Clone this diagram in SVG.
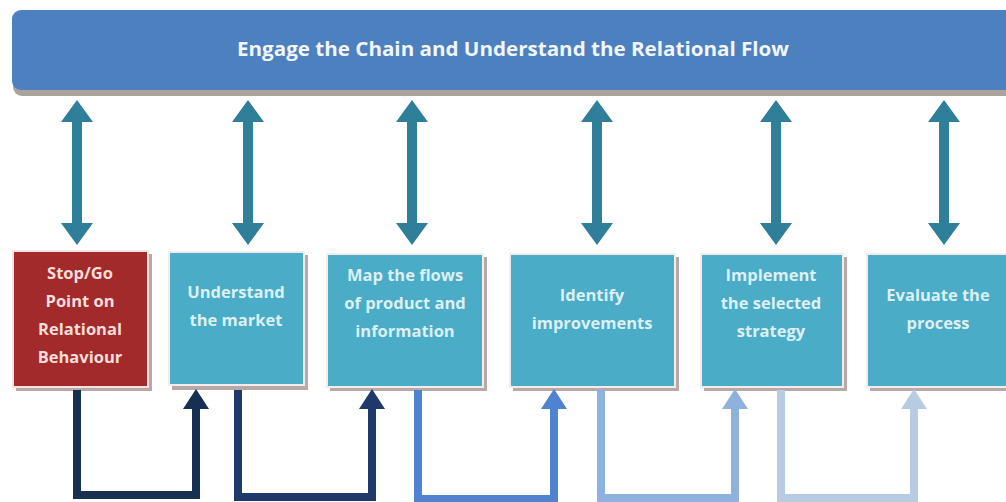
<svg xmlns="http://www.w3.org/2000/svg" width="1006" height="502" viewBox="0 0 1006 502">
  <defs>
    <!-- vertical double-headed arrow, centred on x=0 -->
    <polygon id="dbl" points="0,100 16,122 5,122 5,223 16,223 0,245 -16,223 -5,223 -5,122 -16,122"/>
    <style>
      .lbl { font-family: "Open Sans", "Liberation Sans", sans-serif; font-weight: bold; font-size: 16.5px; text-anchor: middle; }
      .light { fill: #dcf0f5; }
      .pink { fill: #f6dedd; }
      .shadow { fill: #b8a8a6; }
      .box { fill: #4aacc6; stroke: #f4ecec; stroke-width: 2; }
      .red { fill: #a32a2a; stroke: #f6e3e2; stroke-width: 2; }
      .link { fill: none; stroke-width: 8; stroke-linejoin: miter; }
    </style>
  </defs>

  <rect width="1006" height="502" fill="#ffffff"/>

  <!-- header bar -->
  <g id="header">
    <rect x="13" y="13" width="1010" height="83" rx="9" fill="#aaa39b"/>
    <rect x="12" y="10" width="1010" height="80" rx="9" fill="#4d80bf"/>
    <text x="513" y="56" font-family="Open Sans, Liberation Sans, sans-serif" font-weight="bold" font-size="19" fill="#f2f6fb" text-anchor="middle" textLength="552" lengthAdjust="spacingAndGlyphs">Engage the Chain and Understand the Relational Flow</text>
  </g>

  <!-- two-way links between header and steps -->
  <g id="header-links" fill="#2f7f9b">
    <use href="#dbl" x="77"/>
    <use href="#dbl" x="248"/>
    <use href="#dbl" x="412"/>
    <use href="#dbl" x="597"/>
    <use href="#dbl" x="776"/>
    <use href="#dbl" x="944"/>
  </g>

  <!-- steps -->
  <g id="step-stopgo">
    <rect class="shadow" x="16" y="254" width="136" height="137"/>
    <rect class="red" x="13" y="251" width="135" height="136"/>
    <text class="lbl pink" x="80" y="279">Stop/Go</text>
    <text class="lbl pink" x="80" y="307">Point on</text>
    <text class="lbl pink" x="80" y="335">Relational</text>
    <text class="lbl pink" x="80" y="363">Behaviour</text>
  </g>

  <g id="step-market">
    <rect class="shadow" x="172" y="255" width="136" height="135"/>
    <rect class="box" x="169" y="252" width="135" height="133"/>
    <text class="lbl light" x="236" y="298">Understand</text>
    <text class="lbl light" x="236" y="326">the market</text>
  </g>

  <g id="step-map">
    <rect class="shadow" x="330" y="257" width="157" height="134"/>
    <rect class="box" x="327" y="254" width="156" height="133"/>
    <text class="lbl light" x="405" y="281">Map the flows</text>
    <text class="lbl light" x="405" y="309">of product and</text>
    <text class="lbl light" x="405" y="337">information</text>
  </g>

  <g id="step-identify">
    <rect class="shadow" x="513" y="257" width="166" height="134"/>
    <rect class="box" x="510" y="254" width="165" height="133"/>
    <text class="lbl light" x="592" y="301">Identify</text>
    <text class="lbl light" x="592" y="329">improvements</text>
  </g>

  <g id="step-implement">
    <rect class="shadow" x="704" y="257" width="143" height="134"/>
    <rect class="box" x="701" y="254" width="142" height="133"/>
    <text class="lbl light" x="771" y="281">Implement</text>
    <text class="lbl light" x="771" y="309">the selected</text>
    <text class="lbl light" x="771" y="337">strategy</text>
  </g>

  <g id="step-evaluate">
    <rect class="shadow" x="870" y="257" width="150" height="134"/>
    <rect class="box" x="867" y="254" width="150" height="133"/>
    <text class="lbl light" x="938" y="301">Evaluate the</text>
    <text class="lbl light" x="938" y="329">process</text>
  </g>

  <!-- step-to-step elbow connectors -->
  <g id="connectors">
    <path class="link" stroke="#172f52" d="M77,390 V495 H196 V408"/>
    <polygon fill="#172f52" points="196,389 209,409 183,409"/>

    <path class="link" stroke="#1f3a6a" d="M238,390 V497 H372 V408"/>
    <polygon fill="#1f3a6a" points="372,389 385,409 359,409"/>

    <path class="link" stroke="#4f82d0" d="M418,390 V499 H554 V408"/>
    <polygon fill="#4f82d0" points="554,389 567,409 541,409"/>

    <path class="link" stroke="#8db2e0" d="M601,390 V498 H735 V408"/>
    <polygon fill="#8db2e0" points="735,389 748,409 722,409"/>

    <path class="link" stroke="#b7cbe2" d="M781,390 V498 H914 V408"/>
    <polygon fill="#b7cbe2" points="914,389 927,409 901,409"/>
  </g>
</svg>
